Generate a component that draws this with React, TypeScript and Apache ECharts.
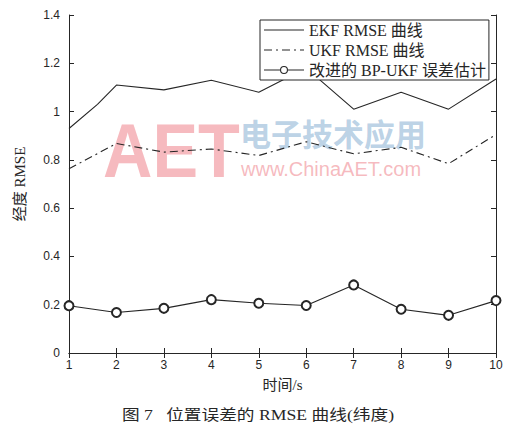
import React, { useEffect, useRef } from "react";
import * as echarts from "echarts";

const ekfTime = [1, 1.6, 2, 3, 4, 5, 6, 7, 8, 9, 10];
const ekfRmse = [0.93, 1.03, 1.11, 1.09, 1.13, 1.08, 1.18, 1.01, 1.08, 1.01, 1.135];
const timeS = [1, 2, 3, 4, 5, 6, 7, 8, 9, 10];
const ukfRmse = [0.763, 0.868, 0.832, 0.845, 0.818, 0.875, 0.825, 0.852, 0.784, 0.905];
const bpUkfRmse = [0.196, 0.168, 0.185, 0.221, 0.206, 0.197, 0.282, 0.181, 0.156, 0.217];
const seriesNames = ["EKF RMSE 曲线", "UKF RMSE 曲线", "改进的 BP-UKF 误差估计"];

const serif = "'Liberation Serif', 'Noto Sans CJK SC', serif";
const sans = "'Liberation Sans', Arial, sans-serif";

// legend icons: 40x10 boxes (degenerate corners keep the bounds) with a 1px bar in the middle
const solidIcon =
  "path://M0,0 L40,0 L40,0.01 Z M0,4.4 L40,4.4 L40,5.6 L0,5.6 Z M0,10 L40,10 L40,9.99 Z";
const dashDotIcon =
  "path://M0,0 L40,0 L40,0.01 Z M0,4.4 L8,4.4 L8,5.6 L0,5.6 Z M12,4.4 L14,4.4 L14,5.6 L12,5.6 Z M18,4.4 L26,4.4 L26,5.6 L18,5.6 Z M30,4.4 L32,4.4 L32,5.6 L30,5.6 Z M36,4.4 L40,4.4 L40,5.6 L36,5.6 Z M0,10 L40,10 L40,9.99 Z";
const circleIcon =
  "path://M0,0 L40,0 L40,0.01 Z M0,4.4 L16,4.4 L16,5.6 L0,5.6 Z M24,4.4 L40,4.4 L40,5.6 L24,5.6 Z M24,5 A4,4 0 1,0 16,5 A4,4 0 1,0 24,5 Z M22.9,5 A2.9,2.9 0 1,1 17.1,5 A2.9,2.9 0 1,1 22.9,5 Z M0,10 L40,10 L40,9.99 Z";

export default function App() {
  const ref = useRef<HTMLDivElement>(null);
  useEffect(() => {
    const chart = echarts.init(ref.current!, null, { renderer: "svg" });
    const ink = "#262626";
    const axisCommon = {
      type: "value",
      axisLine: { show: true, lineStyle: { color: ink, width: 1 } },
      axisTick: { show: true, inside: true, length: 5, lineStyle: { color: ink } },
      splitLine: { show: false },
    };
    chart.setOption({
      animation: false,
      backgroundColor: "#ffffff",
      grid: { left: 69, right: 21, top: 15, bottom: 80 },
      xAxis: [
        {
          ...axisCommon,
          min: 1,
          max: 10,
          interval: 1,
          name: "时间/s",
          nameLocation: "middle",
          nameGap: 24,
          nameTextStyle: { fontFamily: serif, fontSize: 15, color: ink },
          axisLabel: { fontFamily: sans, fontSize: 12, color: ink, margin: 6 },
        },
        {
          ...axisCommon,
          position: "top",
          min: 1,
          max: 10,
          interval: 1,
          axisLabel: { show: false },
        },
      ],
      yAxis: [
        {
          ...axisCommon,
          min: 0,
          max: 1.4,
          interval: 0.2,
          name: "经度 RMSE",
          nameLocation: "middle",
          nameGap: 42,
          nameTextStyle: { fontFamily: serif, fontSize: 15, color: ink },
          axisLabel: {
            fontFamily: sans,
            fontSize: 12,
            color: ink,
            margin: 9,
            formatter: (v: number) => String(Math.round(v * 10) / 10),
          },
        },
        {
          ...axisCommon,
          position: "right",
          min: 0,
          max: 1.4,
          interval: 0.2,
          axisLabel: { show: false },
        },
      ],
      legend: {
        left: 260,
        top: 20,
        orient: "vertical",
        backgroundColor: "#ffffff",
        borderColor: ink,
        borderWidth: 1,
        borderRadius: 0,
        padding: [2, 3, 2, 4],
        itemGap: 4,
        itemWidth: 40,
        itemHeight: 10,
        textStyle: { fontFamily: serif, fontSize: 16, color: ink },
        data: [
          { name: seriesNames[0], icon: solidIcon },
          { name: seriesNames[1], icon: dashDotIcon },
          { name: seriesNames[2], icon: circleIcon },
        ],
        z: 10,
      },
      graphic: [
        {
          type: "text",
          x: 103,
          y: 113,
          scaleX: 0.9,
          z: 0,
          style: {
            text: "AET",
            font: "bold 76px 'Liberation Sans', Arial, sans-serif",
            fill: "rgba(240,140,148,0.6)",
          },
        },
        {
          type: "text",
          x: 240,
          y: 117,
          z: 0,
          style: {
            text: "电子技术应用",
            font: "bold 31px 'Noto Sans CJK SC', sans-serif",
            fill: "rgba(150,185,215,0.65)",
          },
        },
        {
          type: "text",
          x: 241,
          y: 159,
          z: 0,
          style: {
            text: "www.ChinaAET.com",
            font: "20px 'Liberation Sans', Arial, sans-serif",
            fill: "rgba(240,140,148,0.6)",
          },
        },
        {
          type: "text",
          x: 258,
          y: 415,
          scaleX: 1.18,
          style: {
            text: "图 7   位置误差的 RMSE 曲线(纬度)",
            font: "15px 'Liberation Serif', 'Noto Sans CJK SC', serif",
            fill: ink,
            align: "center",
            verticalAlign: "middle",
          },
        },
      ],
      series: [
        {
          name: seriesNames[0],
          type: "line",
          data: ekfTime.map((t, i) => [t, ekfRmse[i]]),
          showSymbol: false,
          symbol: "none",
          lineStyle: { color: ink, width: 1.1, type: "solid" },
          itemStyle: { color: ink },
          z: 3,
        },
        {
          name: seriesNames[1],
          type: "line",
          data: timeS.map((t, i) => [t, ukfRmse[i]]),
          showSymbol: false,
          symbol: "none",
          lineStyle: { color: ink, width: 1.1, type: [8, 4, 2, 4] },
          itemStyle: { color: ink },
          z: 3,
        },
        {
          name: seriesNames[2],
          type: "line",
          data: timeS.map((t, i) => [t, bpUkfRmse[i]]),
          symbol: "emptyCircle",
          symbolSize: 9,
          lineStyle: { color: ink, width: 1.1 },
          itemStyle: { color: ink, borderWidth: 1.1 },
          z: 3,
        },
      ],
    });
    return () => chart.dispose();
  }, []);
  return (
    <div
      ref={ref}
      style={{ position: "fixed", left: 0, top: 0, width: 517, height: 433, background: "#fff" }}
    />
  );
}
